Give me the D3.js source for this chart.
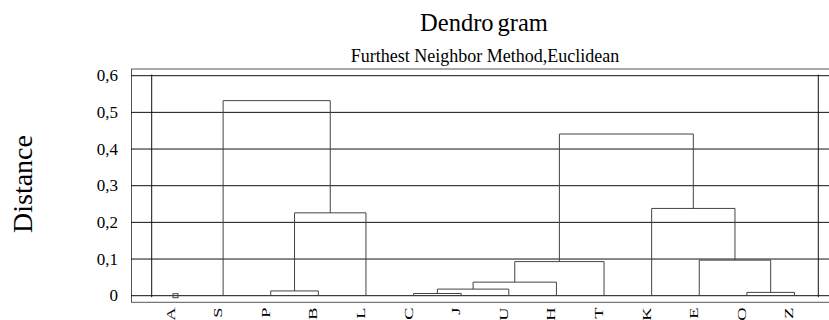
<!DOCTYPE html>
<html>
<head>
<meta charset="utf-8">
<script src="https://cdn.jsdelivr.net/npm/d3@7"></script>
<style>
  html, body { margin: 0; padding: 0; background: #fff; }
  svg { display: block; }
</style>
</head>
<body>
<svg id="chart" width="829" height="320" font-family="'Liberation Serif', 'DejaVu Serif', 'Times New Roman', Times, serif"></svg>
<script>
// ---- data ----
const leaves = ["A","S","P","B","L","C","J","U","H","T","K","E","O","Z"];
// merges: [left child, right child, distance]; children are leaf names or merge indices
const mergeLeft  = ["P", 0,   "S",  "C",   3,     4,     5,     "O",   "E",   "K",   6];
const mergeRight = ["B", "L", 1,    "J",   "U",   "H",   "T",   "Z",   7,     8,     9];
const mergeDist  = [0.013, 0.226, 0.532, 0.006, 0.018, 0.037, 0.093, 0.009, 0.097, 0.238, 0.441];
const singletons = ["A"];
const yTicks = [0, 0.1, 0.2, 0.3, 0.4, 0.5, 0.6];
const yTickLabels = ["0", "0,1", "0,2", "0,3", "0,4", "0,5", "0,6"];
const title = "Dendrogram";
const subtitle = "Furthest Neighbor Method,Euclidean";
const yTitle = "Distance";

// ---- layout ----
const FONT = "'Liberation Serif', 'DejaVu Serif', 'Times New Roman', Times, serif";
const svg = d3.select("#chart");
const frame = {left: 131, top: 69, bottom: 302.3, right: 835};
const x = d3.scalePoint().domain(leaves).range([151.7, 818.3]).padding(0.5);
const y = d3.scaleLinear().domain([0, 0.6]).range([295.7, 75.7]);

// frame
svg.append("rect")
  .attr("x", frame.left + 0.5).attr("y", frame.top)
  .attr("width", frame.right - frame.left).attr("height", frame.bottom - frame.top)
  .attr("fill", "none").attr("stroke", "#555").attr("stroke-width", 1);

// grid lines
svg.append("g").selectAll("line").data(yTicks).join("line")
  .attr("x1", frame.left).attr("x2", 829)
  .attr("y1", d => y(d)).attr("y2", d => y(d))
  .attr("stroke", "#111").attr("stroke-width", 1);

// inner vertical boundary lines
const xr = x.range();
[xr[0], xr[1]].forEach(xv => {
  svg.append("line")
    .attr("x1", xv).attr("x2", xv)
    .attr("y1", y(0.603)).attr("y2", y(-0.004))
    .attr("stroke", "#111").attr("stroke-width", 1);
});

// y tick labels
svg.append("g").selectAll("text").data(yTicks).join("text")
  .attr("x", 118).attr("y", d => y(d))
  .attr("dy", "0.34em")
  .attr("text-anchor", "end")
  .attr("font-family", FONT)
  .attr("font-size", 17)
  .text((d, i) => yTickLabels[i]);

// dendrogram
const nodeX = [], nodeH = [];
function cx(c) { return typeof c === "number" ? nodeX[c] : x(c); }
function ch(c) { return typeof c === "number" ? nodeH[c] : 0; }
const dg = svg.append("g").attr("fill", "none").attr("stroke", "#444").attr("stroke-width", 1);
mergeDist.forEach((h, i) => {
  const l = mergeLeft[i], r = mergeRight[i];
  const xl = cx(l), xrr = cx(r);
  const p = d3.path();
  p.moveTo(xl, y(ch(l)));
  p.lineTo(xl, y(h));
  p.lineTo(xrr, y(h));
  p.lineTo(xrr, y(ch(r)));
  dg.append("path").attr("d", p.toString());
  nodeX[i] = (xl + xrr) / 2;
  nodeH[i] = h;
});
// singleton markers
singletons.forEach(s => {
  dg.append("rect")
    .attr("x", x(s) - 2.5).attr("y", y(0) - 2)
    .attr("width", 5).attr("height", 4);
});

// leaf labels (rotated, stretched along the text direction)
svg.append("g").selectAll("text").data(leaves).join("text")
  .attr("transform", d => `translate(${x(d) - 1},307.5) rotate(-90) scale(1.6,1)`)
  .attr("text-anchor", "end")
  .attr("font-family", FONT)
  .attr("font-size", 11.5)
  .text(d => d);

// titles
const t = svg.append("text")
  .attr("x", 484).attr("y", 31)
  .attr("text-anchor", "middle")
  .attr("font-family", FONT)
  .attr("font-size", 24.5);
t.append("tspan").text(title.slice(0, 6));
t.append("tspan").attr("dx", 4).text(title.slice(6));

svg.append("text")
  .attr("x", 485).attr("y", 62)
  .attr("text-anchor", "middle")
  .attr("font-family", FONT)
  .attr("font-size", 18)
  .text(subtitle);

svg.append("text")
  .attr("transform", "translate(32,184) rotate(-90)")
  .attr("text-anchor", "middle")
  .attr("font-family", FONT)
  .attr("font-size", 28)
  .text(yTitle);
</script>
</body>
</html>
